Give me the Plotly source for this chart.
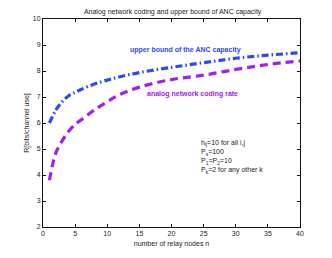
import plotly.graph_objects as go

n = [1, 2, 3, 4, 5, 6, 8, 10, 12, 15, 20, 25, 30, 35, 40]
upper_bound = [6.0, 6.5, 6.82, 7.05, 7.18, 7.3, 7.5, 7.65, 7.78, 7.94, 8.14, 8.32, 8.49, 8.61, 8.7]
anc_rate = [3.8, 4.85, 5.32, 5.68, 5.95, 6.13, 6.5, 6.82, 7.1, 7.38, 7.67, 7.84, 8.06, 8.25, 8.39]

x_ticks = [0, 5, 10, 15, 20, 25, 30, 35, 40]
y_ticks = [2, 3, 4, 5, 6, 7, 8, 9, 10]

font = "Liberation Sans, Arial, sans-serif"

fig = go.Figure()
fig.add_trace(go.Scatter(x=n, y=upper_bound, mode="lines", line_shape="spline",
                         line=dict(color="#2a48ff", width=3.2, dash="7px,3px,1.5px,3px")))
fig.add_trace(go.Scatter(x=n, y=anc_rate, mode="lines", line_shape="spline",
                         line=dict(color="#a020f0", width=3.2, dash="8px,5px")))

axis_common = dict(showline=True, linecolor="#111", linewidth=1, mirror="ticks",
                   ticks="inside", ticklen=3, tickcolor="#111", showgrid=False,
                   zeroline=False, tickfont=dict(size=7, color="#222", family=font))

fig.update_xaxes(range=[0, 40], tickvals=x_ticks, **axis_common,
                 title=dict(text="number of relay nodes n", font=dict(size=7, family=font, color="#222"), standoff=4))
fig.update_yaxes(range=[2, 10], tickvals=y_ticks, **axis_common,
                 title=dict(text="R[bits/channel use]", font=dict(size=7, family=font, color="#222"), standoff=2))

fig.add_annotation(x=22.2, y=8.8, text="<b>upper bound of the ANC capacity</b>", showarrow=False,
                   font=dict(size=7, color="#2a48ff", family=font))
fig.add_annotation(x=15.9, y=7.12, xanchor="left", text="<b>analog network coding rate</b>", showarrow=False,
                   font=dict(size=7, color="#a020f0", family=font))
fig.add_annotation(x=24.3, y=4.7, xanchor="left", yanchor="middle", showarrow=False, align="left",
                   text="h<sub>ij</sub>=10 for all i,j<br>P<sub>s</sub>=100<br>P<sub>1</sub>=P<sub>2</sub>=10<br>P<sub>k</sub>=2 for any other k",
                   font=dict(size=7, color="#222", family=font))

fig.update_layout(width=332, height=258, margin=dict(l=43, r=32, t=19, b=29),
                  plot_bgcolor="white", paper_bgcolor="white", showlegend=False,
                  title=dict(text="Analog network coding and upper bound of ANC capacity",
                             x=0.52, xanchor="center", y=0.955, yanchor="middle",
                             font=dict(size=7, family=font, color="#222")))

fig.write_html("out.html", config={"displayModeBar": False},
               post_script="document.body.style.margin='0px';")
